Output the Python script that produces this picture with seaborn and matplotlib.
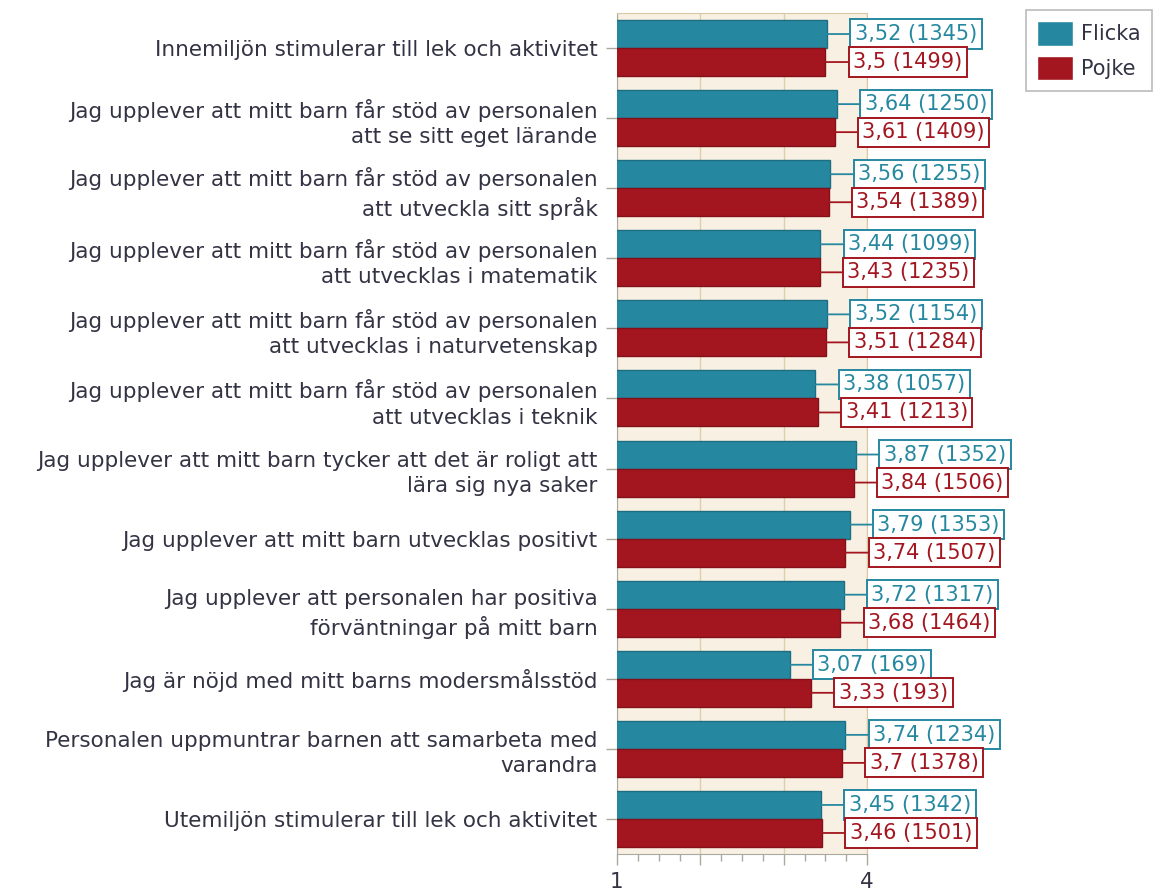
import numpy as np
import pandas as pd
import seaborn as sns
import matplotlib
matplotlib.use('Agg')
import matplotlib.pyplot as plt

# data
categories = [
    'Innemiljön stimulerar till lek och aktivitet',
    'Jag upplever att mitt barn får stöd av personalen\natt se sitt eget lärande',
    'Jag upplever att mitt barn får stöd av personalen\natt utveckla sitt språk',
    'Jag upplever att mitt barn får stöd av personalen\natt utvecklas i matematik',
    'Jag upplever att mitt barn får stöd av personalen\natt utvecklas i naturvetenskap',
    'Jag upplever att mitt barn får stöd av personalen\natt utvecklas i teknik',
    'Jag upplever att mitt barn tycker att det är roligt att\nlära sig nya saker',
    'Jag upplever att mitt barn utvecklas positivt',
    'Jag upplever att personalen har positiva\nförväntningar på mitt barn',
    'Jag är nöjd med mitt barns modersmålsstöd',
    'Personalen uppmuntrar barnen att samarbeta med\nvarandra',
    'Utemiljön stimulerar till lek och aktivitet',
]
flicka = [3.52, 3.64, 3.56, 3.44, 3.52, 3.38, 3.87, 3.79, 3.72, 3.07, 3.74, 3.45]
pojke = [3.5, 3.61, 3.54, 3.43, 3.51, 3.41, 3.84, 3.74, 3.68, 3.33, 3.7, 3.46]
flicka_n = [1345, 1250, 1255, 1099, 1154, 1057, 1352, 1353, 1317, 169, 1234, 1342]
pojke_n = [1499, 1409, 1389, 1235, 1284, 1213, 1506, 1507, 1464, 193, 1378, 1501]
groups = ['Flicka', 'Pojke']
colors = {'Flicka': '#2688a0', 'Pojke': '#a3161f'}
edges = {'Flicka': '#1e6e82', 'Pojke': '#83111a'}

df = pd.DataFrame({
    'fraga': categories * 2,
    'kon': ['Flicka'] * len(categories) + ['Pojke'] * len(categories),
    'varde': flicka + pojke,
    'antal': flicka_n + pojke_n,
})

sns.set_style('white')
plt.rcParams['font.family'] = ['DejaVu Sans']
textcol = '#333344'
fs = 15
fs_lab = 15.5

fig = plt.figure(figsize=(11.55, 8.92), dpi=100)
ax = fig.add_axes([617 / 1155, 1 - 854 / 892, 250 / 1155, 841 / 892])
ax.set_facecolor('#f8f0e2')

sns.barplot(data=df, y='fraga', x='varde', hue='kon', hue_order=groups,
            palette=colors, saturation=1, orient='h', width=0.8, ax=ax,
            legend=True, errorbar=None, linewidth=1, zorder=3)

for cont, g in zip(ax.containers, groups):
    for bar in cont:
        bar.set_edgecolor(edges[g])

# värdeetiketter med ram
for cont, g in zip(ax.containers, groups):
    sub = df[df['kon'] == g]
    for bar, v, n in zip(cont, sub['varde'], sub['antal']):
        x = bar.get_width()
        y = bar.get_y() + bar.get_height() / 2
        txt = f"{v:g}".replace('.', ',') + f" ({n})"
        ax.annotate(txt, xy=(x, y), xytext=(20, 0), textcoords='offset points',
                    ha='left', va='center', fontsize=fs, color=colors[g],
                    annotation_clip=False, zorder=5,
                    bbox=dict(boxstyle='square,pad=0.22', fc='white',
                              ec=colors[g], lw=1.4),
                    arrowprops=dict(arrowstyle='-', color=colors[g], lw=1.3,
                                    shrinkA=0, shrinkB=0))

ax.set_xlim(1, 4)
ax.set_ylim(len(categories) - 0.5, -0.5)
ax.set_xlabel('')
ax.set_ylabel('')
ax.set_xticks([1, 2, 3, 4])
ax.set_xticklabels(['1', '', '', '4'])
ax.set_xticks(np.arange(1, 4.01, 0.25), minor=True)
ax.xaxis.grid(True, color='#ddcfa9', lw=1, zorder=0)
ax.set_axisbelow(True)
ax.tick_params(axis='x', which='major', length=8, width=1, color='#aaa9a0',
               labelsize=fs_lab, labelcolor=textcol, pad=5)
ax.tick_params(axis='x', which='minor', length=5, width=1, color='#aaa9a0')
ax.tick_params(axis='y', length=8, width=1, color='#aaa9a0', labelsize=fs_lab,
               labelcolor=textcol, pad=6)
for lab in ax.get_yticklabels():
    lab.set_linespacing(1.35)
ax.tick_params(axis='both', which='both', bottom=True, left=True)
for s in ax.spines.values():
    s.set_color('#d8c9a4')
ax.spines['bottom'].set_color('#aaa9a0')
ax.spines['left'].set_color('#aaa9a0')

leg = ax.legend(loc='upper right', bbox_to_anchor=(1152 / 1155, 1 - 10 / 892),
                bbox_transform=fig.transFigure, frameon=True, fancybox=False,
                edgecolor='#aaaaaa', fontsize=fs, handlelength=1.7,
                handleheight=1.4, labelspacing=0.5, borderpad=0.55,
                handletextpad=0.4, borderaxespad=0)
for t in leg.get_texts():
    t.set_color(textcol)
leg.get_frame().set_linewidth(1.2)

fig.savefig('out.png', dpi=100)
